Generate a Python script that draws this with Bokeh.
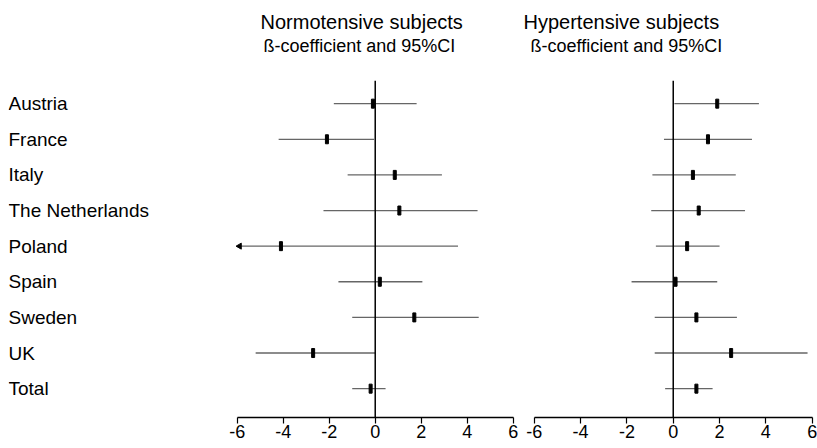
import numpy as np
from bokeh.plotting import figure
from bokeh.layouts import row
from bokeh.models import Range1d, Span, Title, FixedTicker, ColumnDataSource
from bokeh.embed import file_html
from bokeh.resources import INLINE

countries = ["Austria", "France", "Italy", "The Netherlands", "Poland",
             "Spain", "Sweden", "UK", "Total"]

norm_est = [-0.1, -2.1, 0.85, 1.05, -4.1, 0.2, 1.7, -2.7, -0.2]
norm_lo = [-1.8, -4.2, -1.2, -2.25, -6.0, -1.6, -1.0, -5.2, -1.0]
norm_hi = [1.8, -0.05, 2.9, 4.45, 3.6, 2.05, 4.5, 0.0, 0.45]

hyp_est = [1.9, 1.5, 0.85, 1.1, 0.6, 0.1, 1.0, 2.5, 1.0]
hyp_lo = [0.05, -0.4, -0.9, -0.95, -0.75, -1.8, -0.8, -0.8, -0.35]
hyp_hi = [3.7, 3.4, 2.7, 3.1, 2.0, 1.9, 2.75, 5.8, 1.7]

x_ticks = [-6, -4, -2, 0, 2, 4, 6]
x_min, x_max = -6, 6

FONT = "Liberation Sans"
ypos = list(range(len(countries)))
H = 448
TOP = 80
BOTTOM = 31

yr = Range1d(start=len(countries) - 1 + 0.81, end=-0.65)


def panel(title, est, lo, hi, width, bl, br, t_off, s_off):
    p = figure(width=width, height=H, x_range=Range1d(x_min - 0.25, x_max + 0.1),
               y_range=yr, output_backend="svg", toolbar_location=None,
               y_axis_location=None, min_border_left=bl, min_border_right=br,
               min_border_top=TOP, min_border_bottom=BOTTOM)
    p.outline_line_color = None
    p.xgrid.visible = False
    p.ygrid.visible = False
    p.background_fill_color = "white"
    p.border_fill_color = "white"
    src = ColumnDataSource(dict(y=ypos, est=est, lo=lo, hi=hi))
    p.segment(x0="lo", y0="y", x1="hi", y1="y", source=src,
              line_color="#666666", line_width=1.3)
    p.add_layout(Span(location=0, dimension="height", line_color="black",
                      line_width=1.5))
    p.rect(x="est", y="y", width=3, height=9, width_units="screen",
           height_units="screen", source=src, fill_color="black",
           line_color="black")
    arr_y = [y for y, l in zip(ypos, lo) if l <= x_min]
    if arr_y:
        p.scatter(x=[x_min + 0.1] * len(arr_y), y=arr_y, marker="triangle",
                  angle=np.pi / 2, size=6, fill_color="black",
                  line_color="black")
    ax = p.xaxis[0]
    ax.ticker = FixedTicker(ticks=x_ticks)
    ax.bounds = (x_min, x_max)
    ax.major_label_overrides = {t: str(t) for t in x_ticks}
    ax.minor_tick_line_color = None
    ax.major_tick_in = 0
    ax.major_tick_out = 6
    ax.major_label_standoff = 1
    ax.axis_line_color = "black"
    ax.axis_line_width = 1.5
    ax.major_tick_line_color = "black"
    ax.major_tick_line_width = 1.2
    ax.major_label_text_font = FONT
    ax.major_label_text_font_size = "18px"
    ax.major_label_text_color = "black"
    # spacer between frame and subtitle
    p.add_layout(Title(text=" ", standoff=21, text_font_size="1px"), "above")
    p.add_layout(Title(text="ß-coefficient and 95%CI", align="left",
                       offset=s_off, standoff=2, text_font=FONT,
                       text_font_size="18px", text_font_style="normal",
                       text_color="black"), "above")
    p.add_layout(Title(text=title, align="left", offset=t_off, standoff=0,
                       text_font=FONT, text_font_size="20px",
                       text_font_style="normal", text_color="black"), "above")
    return p


lab = figure(width=227, height=H, x_range=Range1d(0, 1), y_range=yr,
             output_backend="svg", toolbar_location=None,
             x_axis_location=None, y_axis_location=None,
             min_border_left=8, min_border_right=0,
             min_border_top=TOP, min_border_bottom=BOTTOM)
lab.outline_line_color = None
lab.xgrid.visible = False
lab.ygrid.visible = False
lab.text(x=[0] * len(countries), y=ypos, text=countries,
         text_align="left", text_baseline="middle",
         text_font={"value": FONT}, text_font_size="19px", text_color="black")

p1 = panel("Normotensive subjects", norm_est, norm_lo, norm_hi, 297, 4, 9, 29, 32)
p2 = panel("Hypertensive subjects", hyp_est, hyp_lo, hyp_hi, 293, 4, 3, -5, 2)

layout = row(lab, p1, p2)
open("out.html", "w").write(file_html(layout, INLINE))
